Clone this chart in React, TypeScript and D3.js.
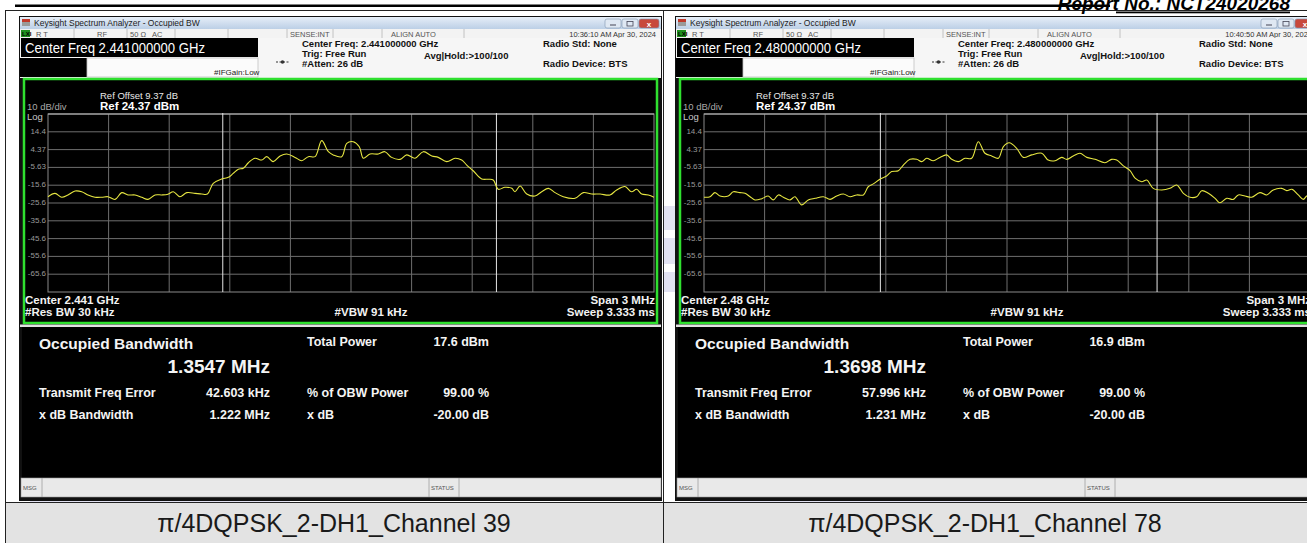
import React, { useRef, useEffect } from 'react';
import * as d3 from 'd3';

const W = 1307;
const H = 543;
const SANS = '"Liberation Sans", Arial, sans-serif';

// Channel 39 trace: offset from center (MHz) and level (dBm)
const ch39Offsets = [
  -1.5, -1.465, -1.432, -1.401, -1.366, -1.333, -1.302, -1.267, -1.234, -1.203, -1.168, -1.135,
  -1.104, -1.069, -1.036, -1.005, -0.97, -0.937, -0.906, -0.88, -0.847, -0.813, -0.772, -0.739,
  -0.711, -0.682, -0.64, -0.607, -0.583, -0.558, -0.533, -0.508, -0.475, -0.442, -0.417, -0.385,
  -0.351, -0.318, -0.277, -0.244, -0.211, -0.178, -0.145, -0.112, -0.088, -0.046, -0.021, 0.011,
  0.041, 0.061, 0.094, 0.135, 0.168, 0.201, 0.243, 0.276, 0.317, 0.358, 0.4, 0.432, 0.474, 0.515,
  0.548, 0.573, 0.605, 0.647, 0.68, 0.704, 0.729, 0.762, 0.796, 0.812, 0.837, 0.87, 0.911, 0.944,
  0.977, 1.01, 1.051, 1.109, 1.15, 1.192, 1.233, 1.282, 1.315, 1.356, 1.389, 1.414, 1.439, 1.472, 1.5,
];
const ch39Levels = [
  -22.1, -20.2, -22.4, -21.1, -18.9, -19.3, -21.1, -22.4, -22.4, -22.1, -23.6, -19.8,
  -21.1, -21.1, -22.4, -23.6, -21.1, -21.1, -20.7, -19.3, -22.1, -19.8, -20.2, -20.6,
  -20.6, -14.6, -12.1, -11.2, -9.0, -6.7, -6.1, -3.0, -0.5, -1.5, 0.4, -2.4,
  0.8, 1.9, 0.0, -1.9, 0.4, 0.4, 9.4, 3.2, 1.4, 0.4, 7.9, 8.8,
  6.0, -0.5, 1.9, 1.9, 3.2, 0.0, -1.1, 1.4, -0.5, 3.2, 0.8, 0.0, -2.4, -0.5,
  -1.5, -4.3, -7.5, -12.1, -12.3, -12.7, -17.9, -16.8, -17.4, -19.3, -16.1, -20.6, -21.7, -19.3,
  -17.4, -19.8, -22.1, -23.0, -19.8, -20.6, -20.6, -21.1, -18.3, -16.4, -19.3, -17.9, -20.6, -21.1, -22.4,
];

// Channel 78 trace: offset from center (MHz) and level (dBm)
const ch78Offsets = [
  -1.5, -1.47, -1.446, -1.421, -1.38, -1.355, -1.322, -1.297, -1.272, -1.248, -1.214, -1.182,
  -1.157, -1.132, -1.107, -1.074, -1.05, -1.016, -0.984, -0.95, -0.909, -0.876, -0.843, -0.81,
  -0.777, -0.744, -0.711, -0.687, -0.662, -0.629, -0.596, -0.571, -0.538, -0.513, -0.48, -0.447,
  -0.422, -0.398, -0.365, -0.332, -0.299, -0.274, -0.241, -0.208, -0.175, -0.142, -0.109, -0.076,
  -0.043, -0.018, 0.011, 0.048, 0.081, 0.122, 0.172, 0.204, 0.238, 0.271, 0.296, 0.328, 0.361,
  0.395, 0.436, 0.485, 0.518, 0.543, 0.576, 0.609, 0.634, 0.667, 0.692, 0.724, 0.766, 0.807,
  0.84, 0.873, 0.906, 0.939, 0.964, 0.997, 1.03, 1.054, 1.088, 1.12, 1.145, 1.178, 1.211, 1.252,
  1.286, 1.318, 1.36, 1.385, 1.41, 1.442, 1.467, 1.484, 1.5,
];
const ch78Levels = [
  -22.4, -22.1, -19.8, -21.7, -21.7, -19.3, -19.8, -20.2, -22.1, -23.9, -23.2, -21.7,
  -23.9, -21.1, -22.4, -23.9, -22.1, -26.7, -23.9, -23.0, -22.1, -23.6, -21.7, -20.6,
  -22.1, -21.1, -21.1, -16.5, -14.9, -12.3, -10.5, -8.0, -7.5, -4.3, -1.1, -1.1,
  -2.4, -0.5, -1.9, 0.0, 1.4, -1.1, -2.4, -0.5, -0.5, 8.8, 2.3, 0.8,
  -0.5, 6.0, 8.2, 5.1, 0.0, 1.4, 2.3, -1.5, -1.9, 0.0, -1.1, 0.8, 2.3,
  0.0, -1.1, -3.0, -1.1, -1.5, -4.8, -7.5, -11.7, -13.7, -12.7, -17.4, -18.3, -17.4,
  -15.5, -20.2, -22.4, -22.1, -18.7, -20.2, -23.0, -25.5, -23.0, -23.6, -21.1, -21.7, -22.4, -19.8,
  -21.1, -18.3, -17.4, -18.7, -17.9, -21.1, -23.6, -21.7, -21.5,
];

const refLevel = 24.37;
const yTickLabels = ['14.4', '4.37', '-5.63', '-15.6', '-25.6', '-35.6', '-45.6', '-55.6', '-65.6'];

const centerFreqs = ['2.441000000 GHz', '2.480000000 GHz'];
const centerShort = ['2.441 GHz', '2.48 GHz'];
const timestamps = ['10:36:10 AM Apr 30, 2024', '10:40:50 AM Apr 30, 2024'];
const obwValues = [1.3547, 1.3698]; // MHz
const freqErrors = [42.603, 57.996]; // kHz
const totalPowers = ['17.6 dBm', '16.9 dBm'];
const xdbBandwidths = ['1.222 MHz', '1.231 MHz'];
const captions = ['π/4DQPSK_2-DH1_Channel 39', 'π/4DQPSK_2-DH1_Channel 78'];

const traces = [
  { offsets: ch39Offsets, levels: ch39Levels },
  { offsets: ch78Offsets, levels: ch78Levels },
];

const panelShift = [0, 656];

function drawPanel(root: any, i: number) {
  const g = root.append('g').attr('transform', `translate(${panelShift[i]},0)`);

  // window frame
  g.append('rect').attr('x', 19).attr('y', 16).attr('width', 643).attr('height', 485).attr('fill', '#111');

  // title bar
  g.append('rect').attr('x', 20).attr('y', 17).attr('width', 641).attr('height', 12).attr('fill', 'url(#titleGrad)');
  g.append('rect').attr('x', 22).attr('y', 19).attr('width', 8).attr('height', 7).attr('fill', '#9a9a9a');
  g.append('rect').attr('x', 22).attr('y', 19).attr('width', 8).attr('height', 3).attr('fill', '#c0392b');
  g.append('text').attr('x', 34).attr('y', 26).attr('font-size', 8.5).attr('fill', '#222').attr('font-family', SANS)
    .text('Keysight Spectrum Analyzer - Occupied BW');
  const btns = [
    { x: 605, w: 16, fill: '#dfe8f3' },
    { x: 622, w: 16, fill: '#dfe8f3' },
    { x: 639, w: 20, fill: '#c8483c' },
  ];
  btns.forEach((b) => {
    g.append('rect').attr('x', b.x).attr('y', 19).attr('width', b.w).attr('height', 9).attr('rx', 2)
      .attr('fill', b.fill).attr('stroke', '#7f95b0').attr('stroke-width', 0.6);
  });
  g.append('line').attr('x1', 610).attr('x2', 616).attr('y1', 25).attr('y2', 25).attr('stroke', '#445').attr('stroke-width', 1);
  g.append('rect').attr('x', 627).attr('y', 21.5).attr('width', 6).attr('height', 4.5).attr('fill', 'none').attr('stroke', '#445').attr('stroke-width', 0.8);
  g.append('text').attr('x', 649).attr('y', 26.5).attr('text-anchor', 'middle').attr('font-size', 8).attr('font-weight', 'bold')
    .attr('fill', '#fff').attr('font-family', SANS).text('x');

  // status row
  g.append('rect').attr('x', 20).attr('y', 29).attr('width', 641).attr('height', 9).attr('fill', '#f3f3f3');
  [74, 127, 175, 228, 287, 333, 382, 464].forEach((sx) => {
    g.append('line').attr('x1', sx).attr('x2', sx).attr('y1', 29).attr('y2', 38).attr('stroke', '#b5b5b5').attr('stroke-width', 0.8);
  });
  g.append('rect').attr('x', 21).attr('y', 30).attr('width', 9).attr('height', 7).attr('fill', '#1f8f1f');
  g.append('text').attr('x', 22).attr('y', 36).attr('font-size', 6).attr('font-weight', 'bold').attr('fill', '#000').attr('font-family', SANS).text('LXI');
  const statusTexts = [
    { x: 36, t: 'R  T' },
    { x: 97, t: 'RF' },
    { x: 130, t: '50 Ω' },
    { x: 152, t: 'AC' },
    { x: 290, t: 'SENSE:INT' },
    { x: 391, t: 'ALIGN AUTO' },
  ];
  statusTexts.forEach((s) => {
    g.append('text').attr('x', s.x).attr('y', 36.5).attr('font-size', 7.5).attr('fill', '#555').attr('font-family', SANS).text(s.t);
  });
  g.append('text').attr('x', 656).attr('y', 36.5).attr('text-anchor', 'end').attr('font-size', 7.5).attr('fill', '#333')
    .attr('font-family', SANS).text(timestamps[i]);

  // settings row
  g.append('rect').attr('x', 20).attr('y', 38).attr('width', 641).attr('height', 40).attr('fill', '#f6f6f6');
  g.append('rect').attr('x', 21).attr('y', 38).attr('width', 237).attr('height', 19).attr('fill', '#000');
  g.append('text').attr('x', 25).attr('y', 53).attr('font-size', 15).attr('fill', '#fff').attr('font-family', SANS)
    .attr('textLength', 180).attr('lengthAdjust', 'spacingAndGlyphs')
    .text(`Center Freq ${centerFreqs[i]}`);
  g.append('rect').attr('x', 20).attr('y', 58).attr('width', 67).attr('height', 19).attr('fill', '#000');
  g.append('rect').attr('x', 87).attr('y', 58).attr('width', 171).attr('height', 19).attr('fill', '#fbfbfb').attr('stroke', '#c4c4c4').attr('stroke-width', 0.8);
  g.append('text').attr('x', 214).attr('y', 75).attr('font-size', 8).attr('fill', '#222').attr('font-family', SANS).text('#IFGain:Low');
  g.append('line').attr('x1', 276).attr('x2', 289).attr('y1', 62).attr('y2', 62).attr('stroke', '#333').attr('stroke-width', 1).attr('stroke-dasharray', '2,1.5');
  g.append('circle').attr('cx', 282.5).attr('cy', 62).attr('r', 1.8).attr('fill', '#333');
  const info = [
    { x: 302, y: 47, t: `Center Freq: ${centerFreqs[i]}` },
    { x: 302, y: 57, t: 'Trig: Free Run' },
    { x: 302, y: 67, t: '#Atten: 26 dB' },
    { x: 424, y: 59, t: 'Avg|Hold:>100/100' },
    { x: 543, y: 47, t: 'Radio Std: None' },
    { x: 543, y: 67, t: 'Radio Device: BTS' },
  ];
  info.forEach((d) => {
    g.append('text').attr('x', d.x).attr('y', d.y).attr('font-size', 9.5).attr('font-weight', 'bold').attr('fill', '#111')
      .attr('font-family', SANS).text(d.t);
  });

  // trace display
  g.append('rect').attr('x', 24).attr('y', 79).attr('width', 633).attr('height', 244).attr('fill', '#000')
    .attr('stroke', '#2fe02f').attr('stroke-width', 2.5);

  const x = d3.scaleLinear().domain([-1.5, 1.5]).range([48, 654]);
  const y = d3.scaleLinear().domain([refLevel - 100, refLevel]).range([292, 114]);

  g.append('text').attr('x', 100).attr('y', 99).attr('font-size', 9.5).attr('fill', '#e8e8e8').attr('font-family', SANS).text('Ref Offset 9.37 dB');
  g.append('text').attr('x', 100).attr('y', 110).attr('font-size', 11.5).attr('font-weight', 'bold').attr('fill', '#fff').attr('font-family', SANS).text('Ref 24.37 dBm');
  g.append('text').attr('x', 27).attr('y', 110).attr('font-size', 9.5).attr('fill', '#a8a8a8').attr('font-family', SANS).text('10 dB/div');
  g.append('text').attr('x', 27).attr('y', 120).attr('font-size', 9.5).attr('fill', '#c8c8c8').attr('font-family', SANS).text('Log');

  // graticule
  const grid = g.append('g');
  d3.range(1, 10).forEach((k) => {
    grid.append('line').attr('x1', x(-1.5)).attr('x2', x(1.5)).attr('y1', y(refLevel - 10 * k)).attr('y2', y(refLevel - 10 * k))
      .attr('stroke', '#6e6e6e').attr('stroke-width', 1);
  });
  d3.range(1, 10).forEach((k) => {
    const f = -1.5 + 0.3 * k;
    grid.append('line').attr('x1', x(f)).attr('x2', x(f)).attr('y1', y(refLevel)).attr('y2', y(refLevel - 100))
      .attr('stroke', '#6e6e6e').attr('stroke-width', 1);
  });
  grid.append('rect').attr('x', x(-1.5)).attr('y', y(refLevel)).attr('width', x(1.5) - x(-1.5)).attr('height', y(refLevel - 100) - y(refLevel))
    .attr('fill', 'none').attr('stroke', '#8a8a8a').attr('stroke-width', 1);
  grid.append('line').attr('x1', x(-1.5)).attr('x2', x(1.5)).attr('y1', y(refLevel)).attr('y2', y(refLevel)).attr('stroke', '#b8b8b8').attr('stroke-width', 1.2);

  yTickLabels.forEach((lab, k) => {
    g.append('text').attr('x', 46).attr('y', y(refLevel - 10 * (k + 1)) + 2).attr('text-anchor', 'end').attr('font-size', 8)
      .attr('fill', '#9a9a9a').attr('font-family', SANS).text(lab);
  });

  // OBW markers
  const fe = freqErrors[i] / 1000;
  const half = obwValues[i] / 2;
  [fe - half, fe + half].forEach((f) => {
    g.append('line').attr('x1', x(f)).attr('x2', x(f)).attr('y1', y(refLevel) - 1).attr('y2', y(refLevel - 100))
      .attr('stroke', '#e6e6e6').attr('stroke-width', 1);
  });

  // trace
  const tr = traces[i];
  const pts = tr.offsets.map((o, k) => [o, tr.levels[k]] as [number, number]);
  const line = d3.line<[number, number]>()
    .x((d) => x(d[0]))
    .y((d) => y(d[1]))
    .curve(d3.curveCatmullRom.alpha(0.5));
  g.append('path').datum(pts).attr('d', line).attr('fill', 'none').attr('stroke', '#e6e642').attr('stroke-width', 1.1);

  // lower labels
  const bl = [
    { x: 25, y: 304, a: 'start', t: `Center  ${centerShort[i]}` },
    { x: 25, y: 316, a: 'start', t: '#Res BW  30 kHz' },
    { x: 371, y: 316, a: 'middle', t: '#VBW  91 kHz' },
    { x: 655, y: 304, a: 'end', t: 'Span 3 MHz' },
    { x: 655, y: 316, a: 'end', t: 'Sweep  3.333 ms' },
  ];
  bl.forEach((d) => {
    g.append('text').attr('x', d.x).attr('y', d.y).attr('text-anchor', d.a).attr('font-size', 11.5).attr('font-weight', 'bold')
      .attr('fill', '#f2f2f2').attr('font-family', SANS).text(d.t);
  });

  // separator + result area
  g.append('rect').attr('x', 20).attr('y', 324.5).attr('width', 641).attr('height', 2.5).attr('fill', '#e2e2e2');
  g.append('rect').attr('x', 22).attr('y', 327).attr('width', 639).attr('height', 151).attr('fill', '#000');

  const res = [
    { x: 39, y: 349, s: 15.5, a: 'start', t: 'Occupied Bandwidth' },
    { x: 270, y: 373, s: 19, a: 'end', t: `${obwValues[i].toFixed(4)} MHz` },
    { x: 307, y: 346, s: 12.5, a: 'start', t: 'Total Power' },
    { x: 489, y: 346, s: 12.5, a: 'end', t: totalPowers[i] },
    { x: 39, y: 397, s: 12.5, a: 'start', t: 'Transmit Freq Error' },
    { x: 270, y: 397, s: 12.5, a: 'end', t: `${freqErrors[i].toFixed(3)} kHz` },
    { x: 307, y: 397, s: 12.5, a: 'start', t: '% of OBW Power' },
    { x: 489, y: 397, s: 12.5, a: 'end', t: '99.00 %' },
    { x: 39, y: 419, s: 12.5, a: 'start', t: 'x dB Bandwidth' },
    { x: 270, y: 419, s: 12.5, a: 'end', t: xdbBandwidths[i] },
    { x: 307, y: 419, s: 12.5, a: 'start', t: 'x dB' },
    { x: 489, y: 419, s: 12.5, a: 'end', t: '-20.00 dB' },
  ];
  res.forEach((d) => {
    g.append('text').attr('x', d.x).attr('y', d.y).attr('text-anchor', d.a).attr('font-size', d.s).attr('font-weight', 'bold')
      .attr('fill', '#f4f4f4').attr('font-family', SANS).text(d.t);
  });

  // message bar
  g.append('rect').attr('x', 21).attr('y', 478).attr('width', 640).attr('height', 19).attr('fill', '#e9e9e9').attr('stroke', '#9a9a9a').attr('stroke-width', 0.6);
  [42, 429, 459].forEach((sx) => {
    g.append('line').attr('x1', sx).attr('x2', sx).attr('y1', 478).attr('y2', 497).attr('stroke', '#a0a0a0').attr('stroke-width', 0.8);
  });
  g.append('text').attr('x', 23).attr('y', 490).attr('font-size', 6).attr('fill', '#555').attr('font-family', SANS).text('MSG');
  g.append('text').attr('x', 431).attr('y', 490).attr('font-size', 6).attr('fill', '#555').attr('font-family', SANS).text('STATUS');
}

const App: React.FC = () => {
  const svgRef = useRef<SVGSVGElement>(null);

  useEffect(() => {
    if (!svgRef.current) return;
    const svg = d3.select(svgRef.current);
    svg.selectAll('*').remove();

    const defs = svg.append('defs');
    const tg = defs.append('linearGradient').attr('id', 'titleGrad').attr('x1', 0).attr('x2', 0).attr('y1', 0).attr('y2', 1);
    tg.append('stop').attr('offset', '0%').attr('stop-color', '#e6eef8');
    tg.append('stop').attr('offset', '100%').attr('stop-color', '#bccfe6');

    svg.append('rect').attr('width', W).attr('height', H).attr('fill', '#fff');

    // faint watermark fragments visible between the screenshots
    [[664, 206, 13, 24], [664, 238, 13, 26], [664, 272, 13, 20], [30, 498, 260, 5], [700, 498, 300, 5]].forEach((r) => {
      svg.append('rect').attr('x', r[0]).attr('y', r[1]).attr('width', r[2]).attr('height', r[3]).attr('fill', '#e2e2f2');
    });

    // caption row
    svg.append('rect').attr('x', 6).attr('y', 503).attr('width', W - 6).attr('height', H - 503).attr('fill', '#e3e3e3');

    panelShift.forEach((_, i) => drawPanel(svg, i));

    captions.forEach((c, i) => {
      svg.append('text').attr('x', i === 0 ? 334 : 985).attr('y', 532).attr('text-anchor', 'middle')
        .attr('font-size', 25).attr('fill', '#1a1a1a').attr('font-family', SANS).text(c);
    });

    // table rules
    svg.append('line').attr('x1', 5.5).attr('x2', 5.5).attr('y1', 10).attr('y2', H).attr('stroke', '#222').attr('stroke-width', 1);
    svg.append('line').attr('x1', 663.5).attr('x2', 663.5).attr('y1', 10).attr('y2', H).attr('stroke', '#222').attr('stroke-width', 1);
    svg.append('line').attr('x1', 5).attr('x2', W).attr('y1', 502.5).attr('y2', 502.5).attr('stroke', '#222').attr('stroke-width', 1);
    svg.append('line').attr('x1', 5).attr('x2', W).attr('y1', 10.5).attr('y2', 10.5).attr('stroke', '#222').attr('stroke-width', 1);
    svg.append('rect').attr('x', 15).attr('y', 4.5).attr('width', 1095).attr('height', 2.5).attr('fill', '#000');

    // header
    svg.append('text').attr('x', 1290).attr('y', 10).attr('text-anchor', 'end').attr('font-size', 19).attr('font-weight', 'bold')
      .attr('font-style', 'italic').attr('fill', '#000').attr('font-family', SANS).text('Report No.: NCT24020268');
    svg.append('rect').attr('x', 1116).attr('y', 11.5).attr('width', 174).attr('height', 1.8).attr('fill', '#000');
  }, []);

  return (
    <svg ref={svgRef} width={W} height={H} style={{ position: 'absolute', left: 0, top: 0, display: 'block' }} />
  );
};

export default App;
